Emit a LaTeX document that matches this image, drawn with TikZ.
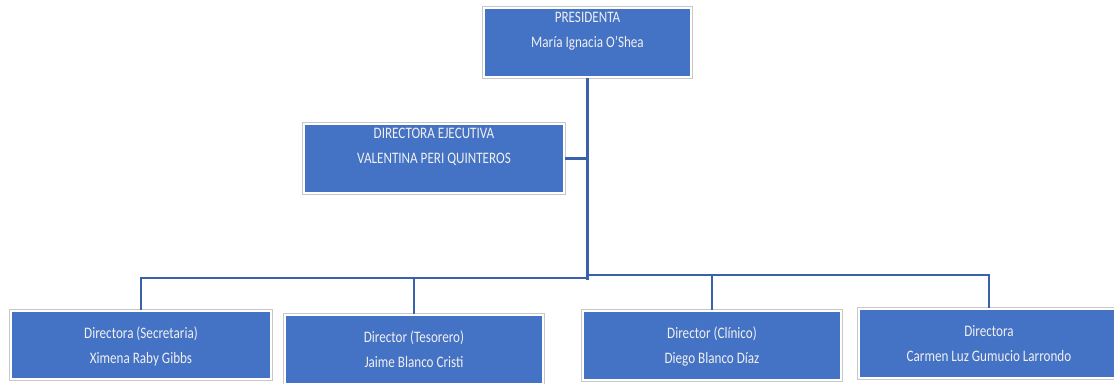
\documentclass[tikz,border=0pt]{standalone}
\usepackage{fontspec}
\setmainfont{Carlito}[FakeStretch=0.82]
\usetikzlibrary{calc,positioning}

\definecolor{boxBlue}{HTML}{4472C4}
\definecolor{lineBlue}{HTML}{3A62AA}
\definecolor{rimGray}{HTML}{C8C8C8}

\begin{document}
\begin{tikzpicture}[x=1pt,y=1pt,font=\fontsize{16}{25}\selectfont,
    orgBox/.style={preaction={draw=rimGray, line width=4pt}, fill=boxBlue, draw=white, line width=2pt,
      text=white!94!black, align=center, inner sep=0pt, text depth=0pt, minimum height=69pt},
    orgLine/.style={draw=lineBlue, line width=2.5pt}]
    \useasboundingbox (0,0) rectangle (1114,383);

    \coordinate (presidentaCenter) at (587.5,340.5);
    \coordinate (ejecutivaCenter) at (434,224.5);
    \coordinate (secretariaCenter) at (141,38);
    \coordinate (tesoreroCenter) at (414,33.5);
    \coordinate (clinicoCenter) at (712,37.5);
    \coordinate (directoraCenter) at (989,39.5);
    \coordinate (trunkEnd) at (587.5,102.5);
    \coordinate (busLeft) at (587.5,105);
    \coordinate (busRight) at (587.5,108);

    \node[orgBox, minimum width=207pt] (presidentaNode) at (presidentaCenter) {PRESIDENTA\\María Ignacia O’Shea\\\mbox{}};
    \node[orgBox, minimum width=260pt] (ejecutivaNode) at (ejecutivaCenter) {DIRECTORA EJECUTIVA\\VALENTINA PERI QUINTEROS\\\mbox{}};

    \node[orgBox, minimum width=260pt, minimum height=68pt] (secretariaNode) at (secretariaCenter) {Directora (Secretaria)\\Ximena Raby Gibbs};
    \node[orgBox, minimum width=258pt] (tesoreroNode) at (tesoreroCenter) {Director (Tesorero)\\Jaime Blanco Cristi};
    \node[orgBox, minimum width=258pt] (clinicoNode) at (clinicoCenter) {Director (Clínico)\\Diego Blanco Díaz};
    \node[orgBox, minimum width=260pt] (directoraNode) at (directoraCenter) {Directora\\Carmen Luz Gumucio Larrondo};

    \draw[orgLine] (presidentaNode.south) -- (trunkEnd);
    \draw[orgLine] (ejecutivaNode.east) -- (ejecutivaNode.east -| presidentaNode.south);

    \draw[orgLine] (busLeft) -| (secretariaNode.north);
    \draw[orgLine] (busRight) -| (directoraNode.north);
    \draw[orgLine] (tesoreroNode.north |- busLeft) -- (tesoreroNode.north);
    \draw[orgLine] (clinicoNode.north |- busRight) -- (clinicoNode.north);

  \end{tikzpicture}
\end{document}
